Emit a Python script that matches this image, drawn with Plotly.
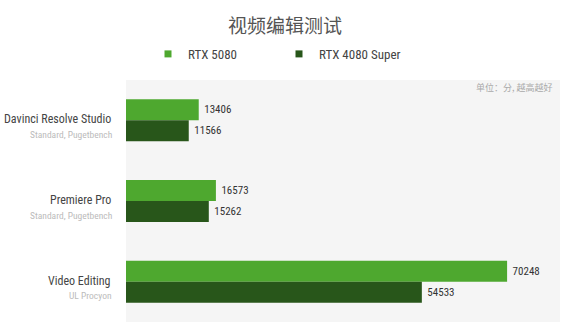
import plotly.graph_objects as go

categories = ["Davinci Resolve Studio", "Premiere Pro", "Video Editing"]
subtitles = ["Standard, Pugetbench", "Standard, Pugetbench", "UL Procyon"]
series_names = ["RTX 5080", "RTX 4080 Super"]
rtx5080 = [13406, 16573, 70248]
rtx4080s = [11566, 15262, 54533]
colors = ["#4ea82f", "#28561a"]

FONT = "Roboto Condensed, Roboto, sans-serif"

fig = go.Figure()
for name, vals, col in zip(series_names, [rtx5080, rtx4080s], colors):
    fig.add_trace(go.Bar(
        y=categories, x=vals, name=name, orientation="h",
        marker=dict(color=col, line=dict(width=0)),
        text=["\u00a0" + str(v) for v in vals], textposition="outside",
        textfont=dict(size=11, color="#333333", family=FONT),
        cliponaxis=False, showlegend=False, legendgroup=name,
    ))
# legend entries (small square swatches)
for name, col in zip(series_names, colors):
    fig.add_trace(go.Scatter(
        x=[None], y=[None], mode="markers", name=name, legendgroup=name,
        marker=dict(symbol="square", size=7, color=col), showlegend=True,
    ))

annotations = []
for c, s in zip(categories, subtitles):
    annotations.append(dict(text=c, xref="paper", yref="y", x=0, y=c,
                            xanchor="right", yanchor="middle", xshift=-13, yshift=1,
                            showarrow=False,
                            font=dict(size=12, color="#444444", family=FONT)))
    annotations.append(dict(text=s, xref="paper", yref="y", x=0, y=c,
                            xanchor="right", yanchor="middle", xshift=-12, yshift=-14,
                            showarrow=False,
                            font=dict(size=9.5, color="#bbbbbb", family=FONT)))
annotations.append(dict(text="单位：分, 越高越好", xref="paper", yref="paper",
                        x=0.9885, y=0.971, xanchor="right", yanchor="middle",
                        showarrow=False,
                        font=dict(size=9, color="#aaaaaa", family="Noto Sans CJK SC")))

fig.update_layout(
    width=570, height=333,
    margin=dict(l=126, r=10, t=80, b=11, autoexpand=False),
    paper_bgcolor="white", plot_bgcolor="#f5f5f5",
    barmode="group", bargap=0.48, bargroupgap=0,
    font=dict(family=FONT),
    title=dict(text="视频编辑测试", x=0.5, xref="container", xanchor="center",
               y=0.922, yref="container", yanchor="middle",
               font=dict(size=19, color="#555555", family="Noto Sans CJK SC")),
    legend=dict(orientation="h", xref="container", x=148 / 570, xanchor="left",
                yref="container", y=0.838, yanchor="middle",
                font=dict(size=13, color="#444444", family=FONT),
                entrywidth=86, entrywidthmode="pixels", itemwidth=30,
                bgcolor="rgba(0,0,0,0)"),
    showlegend=True,
    xaxis=dict(range=[0, 80000], showgrid=False, showticklabels=False,
               zeroline=False, showline=False, fixedrange=True, automargin=False),
    yaxis=dict(autorange="reversed", categoryorder="array", categoryarray=categories,
               showticklabels=False, showgrid=False, zeroline=False, automargin=False,
               ticks=""),
    annotations=annotations,
)

fig.write_html("out.html")
